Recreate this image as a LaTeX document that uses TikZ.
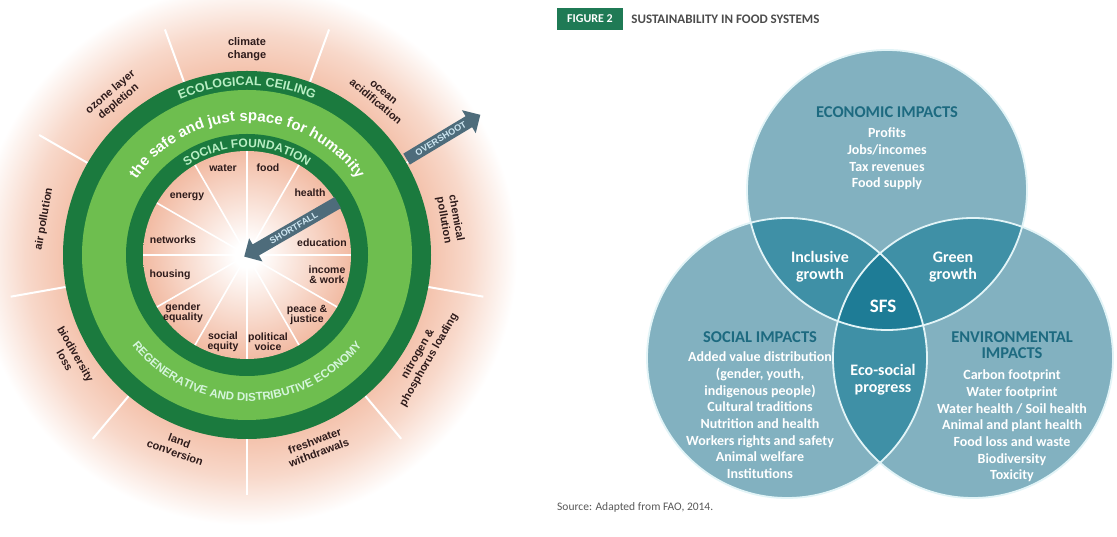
\documentclass[tikz,border=0pt]{standalone}
\usepackage{fontspec}
\setmainfont{Liberation Sans}
\newfontfamily\vennfont{Carlito}
\usetikzlibrary{positioning, decorations.text, shapes.arrows}

\definecolor{ringdark}{HTML}{1B7A3E}
\definecolor{ringlight}{HTML}{6EBE4F}
\definecolor{mint}{HTML}{B9EEC4}
\definecolor{halopink}{HTML}{F4C3AD}
\definecolor{corepink}{HTML}{F2BBA3}
\definecolor{arrowgrey}{HTML}{4E6C7B}
\definecolor{arrowtext}{HTML}{CFE7F2}
\definecolor{labeltext}{HTML}{2E1B1B}
\definecolor{vennbase}{HTML}{82B1C0}
\definecolor{vennmid}{HTML}{3F90A6}
\definecolor{venncore}{HTML}{1E7C96}
\definecolor{vennedge}{HTML}{E2F4F7}
\definecolor{vennhead}{HTML}{1D6A80}
\definecolor{figgreen}{HTML}{1F7A55}

% pink glow round the doughnut, and the pale centre (25bp = edge of the circle)
\pgfdeclareradialshading{halo}{\pgfpoint{0bp}{0bp}}{color(0bp)=(halopink); color(17bp)=(halopink); color(20.5bp)=(halopink!65!white); color(25bp)=(white); color(50bp)=(white)}
\pgfdeclareradialshading{core}{\pgfpoint{0bp}{0bp}}{color(0bp)=(white); color(3bp)=(white); color(25bp)=(corepink); color(50bp)=(corepink)}

\tikzset{
  inlbl/.style={font=\fontsize{10.5}{10.5}\selectfont\bfseries, text=labeltext, align=center, inner sep=0pt},
  outlbl/.style={font=\fontsize{11}{12.5}\selectfont\bfseries, text=labeltext, align=center, inner sep=0pt},
  spoke/.style={white, line width=1.6pt},
  bigarrow/.style={single arrow, fill=arrowgrey, text=arrowtext, font=\fontsize{9}{9}\selectfont\bfseries, inner sep=3pt, single arrow head extend=7pt},
  vhead/.style={font=\vennfont\fontsize{16.5}{16}\selectfont\bfseries, text=vennhead, align=center, inner sep=0pt},
  vbody/.style={font=\vennfont\fontsize{14}{16.7}\selectfont\bfseries, text=white, align=center, inner sep=0pt},
  vmid/.style={font=\vennfont\fontsize{16}{17}\selectfont\bfseries, text=white, align=center, inner sep=0pt},
}

\begin{document}
\begin{tikzpicture}[x=1pt, y=1pt]
\useasboundingbox (0,0) rectangle (1117,537);
\fill[white] (0,0) rectangle (1117,537);

% ---- doughnut ----
\begin{scope}[shift={(247,282)}]
  \coordinate (C) at (0,0);
  \shade[shading=halo] (C) circle (270);
  \foreach \a in {30,70,...,350}
    \draw[spoke, line width=2pt] (\a:184) -- (\a:240);
  \fill[ringdark] (C) circle (184);
  \fill[ringlight] (C) circle (165);
  \fill[ringdark] (C) circle (121);
  \shade[shading=core] (C) circle (104);
  \foreach \a in {0,30,...,330}
    \draw[spoke] (\a:12) -- (\a:104);

  % texts on the rings
  \path[decorate, decoration={text along path, text align=center,
    text={|\fontsize{12.5}{12.5}\selectfont\bfseries\color{mint}|ECOLOGICAL CEILING}}]
    (150:169.5) arc (150:30:169.5);
  \path[decorate, decoration={text along path, text align=center,
    text={|\fontsize{15}{15}\selectfont\bfseries\color{white}|the safe and just space for humanity}}]
    (165:134) arc (165:15:134);
  \path[decorate, decoration={text along path, text align=center,
    text={|\fontsize{12}{12}\selectfont\bfseries\color{mint}|SOCIAL FOUNDATION}}]
    (150:107.5) arc (150:30:107.5);
  \path[decorate, decoration={text along path, text align=center,
    text={|\fontsize{11.5}{11.5}\selectfont\bfseries\color{mint!60!white}|REGENERATIVE AND DISTRIBUTIVE ECONOMY}}]
    (200:146) arc (200:340:146);

  % planetary limits
  \foreach \a/\txt in {10/{chemical\\pollution}, 50/{ocean\\acidification}, 90/{climate\\change},
      130/{ozone layer\\depletion}, 170/{air pollution}}
    \node[outlbl, rotate=\a-90] (lim\a) at (\a:206) {\txt};
  \foreach \a/\txt in {210/{biodiversity\\loss}, 250/{land\\conversion},
      290/{freshwater\\withdrawals}, 330/{nitrogen \&\\phosphorus loading}}
    \node[outlbl, rotate=\a+90] (lim\a) at (\a:204) {\txt};

  % social needs
  \foreach \x/\y/\txt [count=\i] in {-24/87/water, 21/87/food, -60/58/energy, 63/62/health,
      -74/15/networks, 75/12/education, -77/-20/housing, 80/-20/{income\\\& work},
      -64/-58/{gender\\equality}, 60/-60/{peace \&\\justice}, -24/-87/{social\\equity},
      21/-87/{political\\voice}}
    \node[inlbl] (need\i) at (\x,\y) {\txt};

  \node[bigarrow, rotate=31, minimum height=86pt] (overshoot) at (31:226) {OVERSHOOT};
  \node[bigarrow, rotate=30, shape border rotate=180, minimum height=108pt] (shortfall) at (30:54) {SHORTFALL};
\end{scope}

% ---- venn ----
\coordinate (econ) at (887,347);
\coordinate (soc) at (787,179);
\coordinate (env) at (973,179);
\fill[vennbase] (econ) circle (140) (soc) circle (140) (env) circle (140);
\begin{scope}
  \clip (econ) circle (140);
  \fill[vennmid] (soc) circle (140) (env) circle (140);
\end{scope}
\begin{scope}
  \clip (soc) circle (140);
  \fill[vennmid] (env) circle (140);
\end{scope}
\begin{scope}
  \clip (econ) circle (140);
  \clip (soc) circle (140);
  \fill[venncore] (env) circle (140);
\end{scope}
\draw[vennedge, line width=1.8pt] (econ) circle (140) (soc) circle (140) (env) circle (140);

\node[vhead] (econhead) at (887,425) {ECONOMIC IMPACTS};
\node[vbody, below=10pt of econhead] (econbody) {Profits\\Jobs/incomes\\Tax revenues\\Food supply};
\node[vhead] (sochead) at (760,200) {SOCIAL IMPACTS};
\node[vbody, below=9pt of sochead] (socbody) {Added value distribution\\(gender, youth,\\indigenous people)\\Cultural traditions\\Nutrition and health\\Workers rights and safety\\Animal welfare\\Institutions};
\node[vhead] (envhead) at (1012,192) {ENVIRONMENTAL\\IMPACTS};
\node[vbody, below=11pt of envhead] (envbody) {Carbon footprint\\Water footprint\\Water health / Soil health\\Animal and plant health\\Food loss and waste\\Biodiversity\\Toxicity};

\node[vmid] (incl) at (820,270) {Inclusive\\growth};
\node[vmid] (green) at (953,270) {Green\\growth};
\node[vmid, font=\vennfont\fontsize{19}{19}\selectfont\bfseries] (sfs) at (883,231) {SFS};
\node[vmid] (ecosoc) at (883,157) {Eco-social\\progress};

% heading and source line
\node[fill=figgreen, text=white, font=\vennfont\fontsize{12}{12}\selectfont\bfseries,
  minimum width=66pt, minimum height=22pt, inner sep=0pt] (figtag) at (590,518) {FIGURE 2};
\node[font=\vennfont\fontsize{13}{13}\selectfont\bfseries, text=black!70, inner sep=0pt,
  right=8pt of figtag] (figtitle) {SUSTAINABILITY IN FOOD SYSTEMS};
\node[font=\vennfont\fontsize{11.5}{11.5}\selectfont, text=black!65, anchor=west, inner sep=0pt]
  (source) at (557,30) {Source: Adapted from FAO, 2014.};
\end{tikzpicture}
\end{document}
